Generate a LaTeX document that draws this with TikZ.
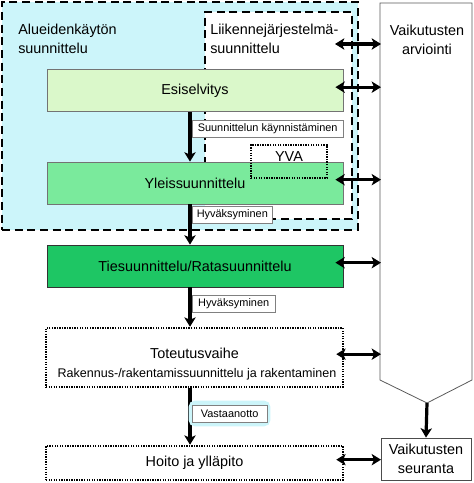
\documentclass[tikz,border=0pt]{standalone}
\usepackage{fontspec}
\setmainfont{Liberation Sans}
\usetikzlibrary{arrows.meta}
\definecolor{alueblue}{RGB}{204,245,250}
\definecolor{esigreen}{RGB}{218,248,202}
\definecolor{yleisgreen}{RGB}{122,234,156}
\definecolor{tiegreen}{RGB}{30,198,100}
\tikzset{
  region/.style={draw=black, line width=2.2pt, dash pattern=on 6pt off 3.5pt},
  phase/.style={draw=black!55, line width=0.6pt, minimum width=222pt, minimum height=31.5pt, font=\fontsize{10.8}{14.5}\selectfont},
  openphase/.style={draw=black, line width=1.9pt, dash pattern=on 1pt off 0.9pt, minimum width=222.75pt},
  big/.style={font=\fontsize{10.8}{14.5}\selectfont},
  tag/.style={draw=black!50, fill=white, line width=0.5pt, minimum height=12.75pt, inner sep=1pt, anchor=west, font=\fontsize{8.2}{10}\selectfont},
  flow/.style={line width=2.4pt, -{Stealth[length=7pt,width=8.5pt,inset=1.8pt]}},
  duo/.style={line width=2.4pt, {Stealth[length=7pt,width=8.5pt,inset=1.8pt]}-{Stealth[length=7pt,width=8.5pt,inset=1.8pt]}}
}
\begin{document}
\begin{tikzpicture}[x=0.75pt,y=-0.75pt]
\useasboundingbox (0,0) rectangle (474,483);
\node (alue) [region, fill=alueblue, minimum width=267pt, minimum height=171pt] at (180,116) {};
\node (liik) [region, fill=white, minimum width=110.25pt, minimum height=155.25pt] at (278.5,115.5) {};
\node (aluet) [big, anchor=west, align=left, inner sep=0pt] at (18,39) {Alueidenkäytön\\suunnittelu};
\node (liikt) [big, anchor=west, align=left, inner sep=0pt] at (210,39) {Liikennejärjestelmä-\\suunnittelu};
\node (esi) [phase, fill=esigreen] at (195,90.5) {Esiselvitys};
\node (yleis) [phase, fill=yleisgreen] at (195,183) {Yleissuunnittelu};
\node (tie) [phase, fill=tiegreen, draw=black!80] at (195,266) {Tiesuunnittelu/Ratasuunnittelu};
\node (tot) [openphase, minimum height=44.25pt] at (194.5,357.5) {};
\node (tott) [big] at (194.5,353) {Toteutusvaihe};
\node (totr) [font=\fontsize{9.4}{11}\selectfont] at (197,374) {Rakennus-/rakentamissuunnittelu ja rakentaminen};
\node (hoito) [openphase, minimum height=25.5pt, big] at (194.5,463) {Hoito ja ylläpito};
\node (yva) [openphase, minimum width=57pt, minimum height=24.75pt] at (289,161.5) {};
\node (yvat) [big] at (289,157) {YVA};
\coordinate (flowx) at (190,0);
\draw [flow] (esi.south -| flowx) -- (yleis.north -| flowx);
\draw [flow] (yleis.south -| flowx) -- (tie.north -| flowx);
\draw [flow] (tie.south -| flowx) -- (tot.north -| flowx);
\draw [flow] (tot.south -| flowx) -- (hoito.north -| flowx);
\node (kaynn) [tag, minimum width=113pt] at (192,128.5) {Suunnittelun käynnistäminen};
\node (hyv1) [tag, minimum width=60pt] at (192,215) {Hyväksyminen};
\node (hyv2) [tag, minimum width=62pt] at (192,304) {Hyväksyminen};
\node (vastglow) [draw=alueblue, line width=3.5pt, rounded corners=3pt, minimum width=57.75pt, minimum height=15.75pt] at (229.5,413.5) {};
\node (vast) [tag, minimum width=56pt] at (192,413.5) {Vastaanotto};
\draw [draw=black!65, line width=0.6pt] (380,3) -- (472,3) -- (472,380) -- (427,403) -- (380,380) -- cycle;
\coordinate (arvtip) at (427,403);
\coordinate (arvw) at (381,0);
\node (arv) [big, align=center] at (427,40) {Vaikutusten\\arviointi};
\node (seur) [draw=black!70, line width=0.6pt, minimum width=67.5pt, minimum height=31.5pt, big, align=center] at (426,459) {Vaikutusten\\seuranta};
\draw [flow] (arvtip) -- (seur.north);
\coordinate (liikr) at (335,44);
\draw [duo] (liikr) -- (liikr -| arvw);
\draw [duo] ([xshift=-6pt,yshift=2.5pt]esi.east) -- ([yshift=2.5pt]esi.east -| arvw);
\draw [duo] ([xshift=-6pt,yshift=2.5pt]yleis.east) -- ([yshift=2.5pt]yleis.east -| arvw);
\draw [duo] ([xshift=-6pt,yshift=2.5pt]tie.east) -- ([yshift=2.5pt]tie.east -| arvw);
\draw [duo] ([xshift=-6pt,yshift=2.5pt]tot.east) -- ([yshift=2.5pt]tot.east -| arvw);
\draw [duo] ([xshift=-6pt,yshift=2.5pt]hoito.east) -- ([yshift=2.5pt]hoito.east -| arvw);
\end{tikzpicture}
\end{document}
